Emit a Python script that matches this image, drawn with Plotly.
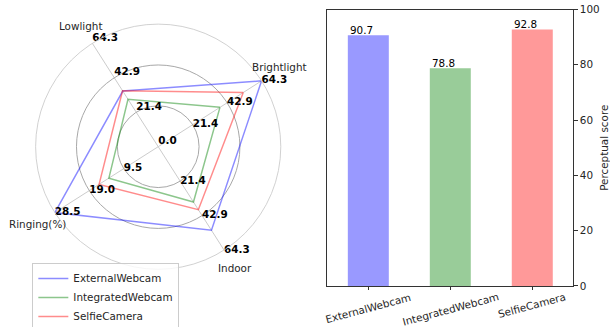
import math
import plotly.graph_objects as go

# Radar panel: per-axis scores, each axis scaled to its own maximum
radar_axes = ["Brightlight", "Lowlight", "Ringing(%)", "Indoor"]
axis_max = [64.3, 64.3, 28.5, 64.3]
external_webcam = [64.3, 34.6, 28.5, 52.0]
integrated_webcam = [38.4, 29.5, 13.6, 34.4]
selfie_camera = [52.9, 34.8, 16.3, 39.2]

# Bar panel: overall perceptual score per device
devices = ["ExternalWebcam", "IntegratedWebcam", "SelfieCamera"]
perceptual_score = [90.7, 78.8, 92.8]

line_colors = ["rgba(0,0,255,0.45)", "rgba(0,128,0,0.45)", "rgba(255,0,0,0.45)"]
bar_colors = ["#9999ff", "#99cc99", "#ff9999"]
grid_fracs = [1 / 3, 2 / 3, 1.0]
# where each spoke's scale labels sit relative to their ring point
label_side = {"Brightlight": "middle right", "Lowlight": "top right",
              "Ringing(%)": "middle right", "Indoor": "middle right"}
# small vertical nudges for spoke names (px)
name_nudge = {"Brightlight": 3, "Lowlight": 0, "Ringing(%)": 0, "Indoor": 0}
FONT = "DejaVu Sans"
FS = 10.4
W, H = 610, 327

POLAR_X = [0.0584, 0.4603]
POLAR_Y = [0.1765, 0.9263]
ROTATION = 32.5
LABEL_R = 1.17  # spoke-name distance, in units of the outer ring radius

fig = go.Figure()

series = [("ExternalWebcam", external_webcam),
          ("IntegratedWebcam", integrated_webcam),
          ("SelfieCamera", selfie_camera)]
for (name, vals), col in zip(series, line_colors):
    r = [v / m for v, m in zip(vals, axis_max)]
    fig.add_trace(go.Scatterpolar(
        r=r + r[:1], theta=radar_axes + radar_axes[:1], mode="lines",
        line=dict(color=col, width=1.5), name=name, hoverinfo="skip"))

# axis scale labels along each spoke
tick_r, tick_theta, tick_text, tick_pos = [0.0], [radar_axes[0]], ["0.0"], ["top right"]
for ax_name, m in zip(radar_axes, axis_max):
    for f in grid_fracs:
        tick_r.append(f)
        tick_theta.append(ax_name)
        tick_text.append(f"{m * f:.1f}")
        tick_pos.append(label_side[ax_name])
fig.add_trace(go.Scatterpolar(
    r=tick_r, theta=tick_theta, text=tick_text, mode="text",
    textposition=tick_pos, cliponaxis=False, showlegend=False,
    textfont=dict(family=FONT, size=FS, color="black", weight="bold"),
    hoverinfo="skip"))

fig.add_trace(go.Bar(
    x=devices, y=perceptual_score, width=0.5, marker=dict(color=bar_colors, line=dict(width=0)),
    xaxis="x", yaxis="y", showlegend=False, hoverinfo="skip"))

annotations = []

# spoke names placed just outside the outer ring of the polar area
cx = (POLAR_X[0] + POLAR_X[1]) / 2
cy = (POLAR_Y[0] + POLAR_Y[1]) / 2
radius_px = min((POLAR_X[1] - POLAR_X[0]) * W, (POLAR_Y[1] - POLAR_Y[0]) * H) / 2
for i, name in enumerate(radar_axes):
    a = math.radians(ROTATION + 90 * i)
    annotations.append(dict(
        x=cx + LABEL_R * radius_px * math.cos(a) / W,
        y=cy + LABEL_R * radius_px * math.sin(a) / H,
        xref="paper", yref="paper", text=name, showarrow=False,
        xanchor="center", yanchor="middle", yshift=name_nudge[name],
        font=dict(family=FONT, size=FS, color="#262626")))

for i, (d, v) in enumerate(zip(devices, perceptual_score)):
    annotations.append(dict(
        x=i - 0.25, y=v, xref="x", yref="y", text=f"{v}", showarrow=False,
        xanchor="left", yanchor="bottom", yshift=-3,
        font=dict(family=FONT, size=FS, color="black")))
    annotations.append(dict(
        x=d, y=0, xref="x", yref="y", text=d, showarrow=False,
        xanchor="center", yanchor="top", textangle=-15, yshift=-2,
        font=dict(family=FONT, size=FS, color="#262626")))

fig.update_layout(
    width=W, height=H, margin=dict(l=0, r=0, t=0, b=0, autoexpand=False),
    paper_bgcolor="white", plot_bgcolor="white",
    font=dict(family=FONT, size=FS, color="#262626"),
    polar=dict(
        domain=dict(x=POLAR_X, y=POLAR_Y),
        bgcolor="white",
        radialaxis=dict(range=[0, 1], tickvals=grid_fracs[:2], showticklabels=False,
                        ticks="", showline=False, gridcolor="#a8a8a8", gridwidth=0.9),
        angularaxis=dict(type="category", categoryarray=radar_axes, rotation=ROTATION,
                         direction="counterclockwise", showticklabels=False, ticks="",
                         showline=True, linecolor="#cccccc", linewidth=0.9,
                         gridcolor="#cccccc", gridwidth=0.9),
    ),
    xaxis=dict(domain=[0.5366, 0.9398], range=[-0.5, 2.5], showline=True, mirror=True,
               linecolor="#333333", linewidth=1, ticks="outside", ticklen=3.5,
               tickcolor="#333333", showticklabels=False, showgrid=False, zeroline=False,
               anchor="y"),
    yaxis=dict(domain=[0.1254, 0.9709], range=[0, 100], side="right", anchor="x",
               tickvals=[0, 20, 40, 60, 80, 100], ticks="outside", ticklen=3.5,
               tickcolor="#333333", showline=True, mirror=True, linecolor="#333333",
               linewidth=1, showgrid=False, zeroline=False,
               tickfont=dict(family=FONT, size=FS, color="#262626"),
               title=dict(text="Perceptual score", standoff=6,
                          font=dict(family=FONT, size=FS, color="#262626"))),
    legend=dict(x=0.053, y=0.196, xanchor="left", yanchor="top",
                bordercolor="#cccccc", borderwidth=1, bgcolor="rgba(255,255,255,0.8)",
                font=dict(family=FONT, size=FS, color="#262626"), tracegroupgap=0),
    annotations=annotations,
)

fig.write_html("out.html")
